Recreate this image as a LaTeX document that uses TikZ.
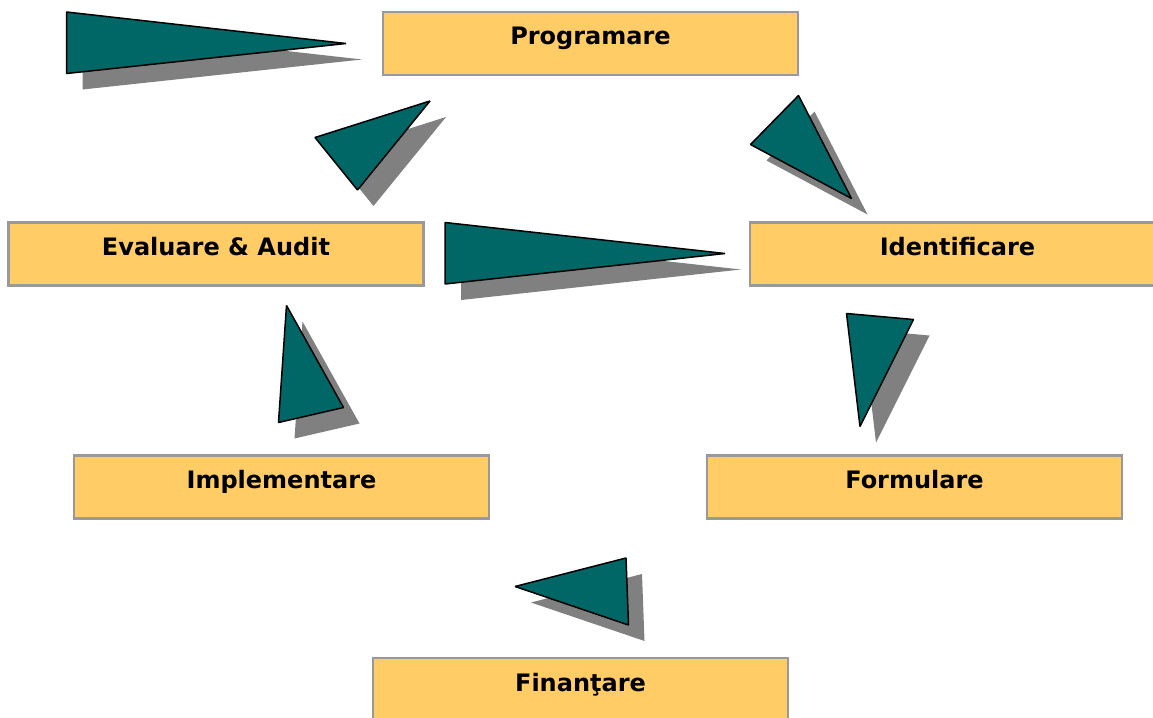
\documentclass[tikz,border=0pt]{standalone}
\usepackage{fontspec}
\setmainfont{DejaVu Sans}
\definecolor{boxfill}{HTML}{FFCC66}
\definecolor{boxline}{HTML}{999999}
\definecolor{wedgeteal}{HTML}{006666}
\definecolor{wedgegray}{HTML}{808080}
\newcommand{\wedgeshape}[3]{%
  \fill[wedgeshadow,shift={(16,16)}] #1 -- #2 -- #3 -- cycle;
  \draw[wedge] #1 -- #2 -- #3 -- cycle;}
\begin{document}
\begin{tikzpicture}[x=1pt,y=-1pt]
            \tikzstyle{stage}=[draw=boxline, fill=boxfill, line width=2.5pt, minimum width=415pt, minimum height=63pt, inner sep=0pt, font=\fontsize{24}{29}\selectfont\bfseries, text height=13.5pt, text depth=10.5pt]
            \tikzstyle{wedge}=[fill=wedgeteal, draw=black, line width=1.5pt, line join=bevel]
            \tikzstyle{wedgeshadow}=[fill=wedgegray]
            \clip (0,0) rectangle (1153,717);
            \node[stage] (prog) at (590.5,43.5) {Programare};
            \node[stage] (eval) at (216,254) {Evaluare \& Audit};
            \node[stage] (ident) at (957.5,254) {Identificare};
            \node[stage] (impl) at (281.5,487) {Implementare};
            \node[stage] (form) at (914.5,487) {Formulare};
            \node[stage] (fin) at (580.5,689.5) {Finanţare};
            \wedgeshape{(66.5,12)}{(66.5,73.5)}{(346,43.5)}
            \wedgeshape{(315,137.5)}{(430,101)}{(357.5,190)}
            \wedgeshape{(750.5,144.5)}{(798.5,95.5)}{(851.5,198.5)}
            \wedgeshape{(445,222.5)}{(445,284)}{(725,253.5)}
            \wedgeshape{(286.5,305.5)}{(278.5,422.5)}{(343.5,407.5)}
            \wedgeshape{(846.5,313.5)}{(913.5,319.5)}{(860,426.5)}
            \wedgeshape{(515,586.5)}{(626,558)}{(628.5,625)}
        \end{tikzpicture}
\end{document}
